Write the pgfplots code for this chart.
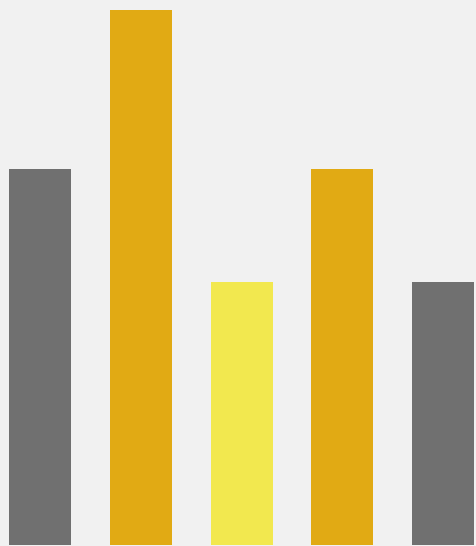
\documentclass[border=0pt]{standalone}
\usepackage{pgfplots}
\pgfplotsset{compat=1.18}
\definecolor{bggray}{HTML}{F1F1F1}
\definecolor{bargray}{HTML}{707070}
\definecolor{bargold}{HTML}{E1AA14}
\definecolor{baryellow}{HTML}{F2E84F}
\begin{document}
\begin{tikzpicture}
\begin{axis}[
  scale only axis,
  width=476bp, height=546bp,
  xmin=0, xmax=476, ymin=-1, ymax=545,
  axis lines=none, ticks=none,
  axis background/.style={fill=bggray},
  ybar, bar width=62, bar shift=0pt,
  clip=false,
]
\addplot[fill=bargray, draw=none] coordinates {(40,376)};
\addplot[fill=bargold, draw=none] coordinates {(141,535)};
\addplot[fill=baryellow, draw=none] coordinates {(242,263)};
\addplot[fill=bargold, draw=none] coordinates {(342,376)};
\addplot[fill=bargray, draw=none] coordinates {(443,263)};
\end{axis}
\end{tikzpicture}
\end{document}
